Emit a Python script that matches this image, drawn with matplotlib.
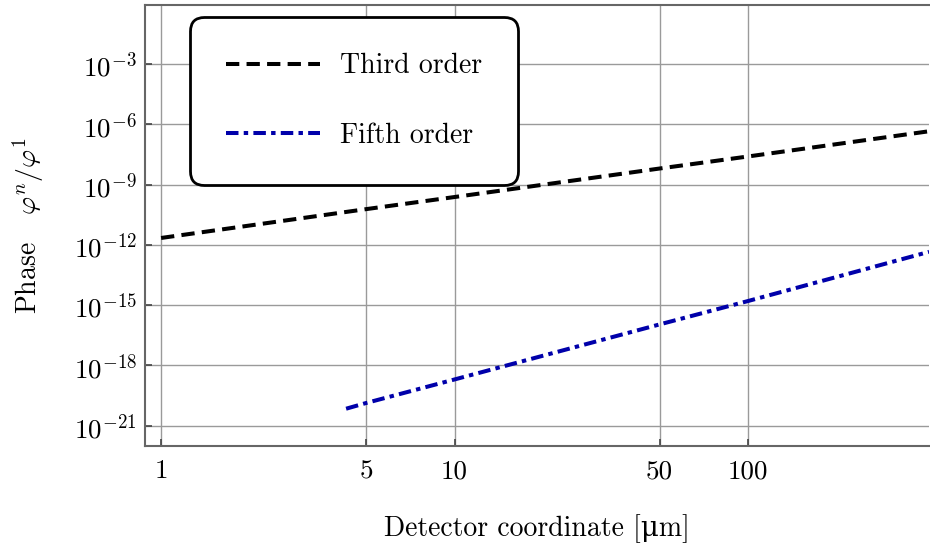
import matplotlib
matplotlib.use('Agg')
import matplotlib.pyplot as plt

# values (log-log straight lines)
third_x = [1, 5, 10, 50, 100, 414]
third_y = [2.2e-12, 6.0e-11, 2.4e-10, 6.3e-9, 2.5e-8, 4.5e-7]
fifth_x = [4.27, 5, 10, 50, 100, 414]
fifth_y = [7.0e-21, 1.35e-20, 2.0e-19, 1.1e-16, 1.6e-15, 4.5e-13]

x_ticks = [1, 5, 10, 50, 100]
x_ticklabels = ['1', '5', '10', '50', '100']
y_exponents = [-21, -18, -15, -12, -9, -6, -3]

font_size = 20
plt.rcParams['font.family'] = ['cmr10', 'DejaVu Serif']
plt.rcParams['mathtext.fontset'] = 'cm'
plt.rcParams['axes.formatter.use_mathtext'] = True
plt.rcParams['font.size'] = font_size

fig = plt.figure(figsize=(9.3, 5.49), dpi=100)
ax = fig.add_axes([0.156, 0.188, 0.843, 0.803])

ax.plot(third_x, third_y, color='black', lw=2.9, dashes=(3.3, 1.8),
        label='Third order', zorder=3)
ax.plot(fifth_x, fifth_y, color='#0000aa', lw=2.9, dashes=(3.1, 1.3, 1.1, 1.3),
        label='Fifth order', zorder=3)

ax.set_xscale('log')
ax.set_yscale('log')
ax.set_xlim(0.882, 414)
ax.set_ylim(1e-22, 0.87)

ax.set_xticks(x_ticks)
ax.set_xticklabels(x_ticklabels)
ax.set_yticks([10.0 ** e for e in y_exponents])
ax.set_yticklabels([r'$10^{%d}$' % e for e in y_exponents])
ax.minorticks_off()

ax.tick_params(direction='in', length=5, width=1.2, color='#444444',
               labelsize=19.5)
ax.tick_params(axis='y', pad=6)
ax.tick_params(axis='x', pad=10)
ax.grid(True, which='major', color='#9a9a9a', lw=1.0)
ax.set_axisbelow(True)

for side in ['left', 'bottom', 'top']:
    ax.spines[side].set_color('#666666')
    ax.spines[side].set_linewidth(1.5)
ax.spines['right'].set_visible(False)

ax.set_xlabel('Detector coordinate [\u03bcm]', labelpad=22)
ax.set_ylabel(r'Phase   $\varphi^n/\varphi^1$', labelpad=20)

leg = ax.legend(loc='upper left', bbox_to_anchor=(0.057, 0.973), borderaxespad=0,
                fancybox=True, handlelength=3.4, handletextpad=0.7,
                labelspacing=1.55, borderpad=1.3, framealpha=1.0,
                fontsize=font_size)
frame = leg.get_frame()
frame.set_edgecolor('black')
frame.set_linewidth(2.0)
frame.set_boxstyle('round', pad=0.0, rounding_size=0.5)

fig.savefig('out.png', dpi=100)
